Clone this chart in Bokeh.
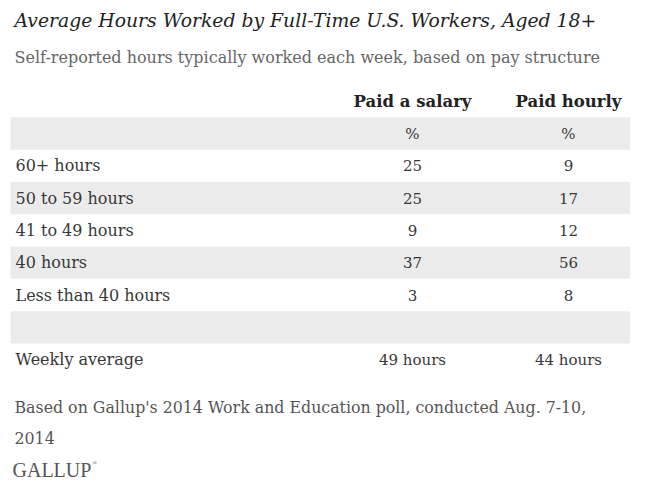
from bokeh.plotting import figure
from bokeh.models import Range1d, ColumnDataSource
from bokeh.core.properties import value
from bokeh.embed import file_html
from bokeh.resources import INLINE

# ---- data ----
title = "Average Hours Worked by Full-Time U.S. Workers, Aged 18+"
subtitle = "Self-reported hours typically worked each week, based on pay structure"
columns = ["Paid a salary", "Paid hourly"]
categories = ["60+ hours", "50 to 59 hours", "41 to 49 hours", "40 hours", "Less than 40 hours"]
salary_pct = [25, 25, 9, 37, 3]
hourly_pct = [9, 17, 12, 56, 8]
avg_label = "Weekly average"
salary_avg = 49
hourly_avg = 44
footnote = ["Based on Gallup's 2014 Work and Education poll, conducted Aug. 7-10,", "2014"]
brand = "GALLUP"

# ---- layout (pixel-like coordinates of the page) ----
W, H = 630, 483
p = figure(width=W, height=H, x_range=Range1d(0, W), y_range=Range1d(H, 0),
           output_backend="svg", toolbar_location=None, min_border=0)
p.axis.visible = False
p.grid.visible = False
p.outline_line_color = None
p.background_fill_color = "white"
p.border_fill_color = "white"

FONT = value("DejaVu Serif")
col_x = [412, 568]
label_x = 15
row0 = 133.0
row_h = 32.3
band_left, band_right = 10, 637

row_labels = [""] + categories + ["", avg_label]
sal = ["%"] + [str(v) for v in salary_pct] + ["", f"{salary_avg} hours"]
hrs = ["%"] + [str(v) for v in hourly_pct] + ["", f"{hourly_avg} hours"]
ys = [row0 + i * row_h for i in range(len(row_labels))]

# shaded bands
band_rows = [i for i in range(len(row_labels)) if i % 2 == 0]
p.quad(left=[band_left] * len(band_rows), right=[band_right] * len(band_rows),
       top=[ys[i] - row_h / 2 for i in band_rows], bottom=[ys[i] + row_h / 2 for i in band_rows],
       fill_color="#ebebeb", line_color=None)

# title / subtitle
p.text(x=[14], y=[20], text=[title], text_font=FONT, text_font_style="italic",
       text_font_size="18.8px", text_color="#222222", text_baseline="middle", text_align="left")
p.text(x=[14], y=[57], text=[subtitle], text_font=FONT,
       text_font_size="16px", text_color="#666666", text_baseline="middle", text_align="left")

# column headers
p.text(x=col_x, y=[101, 101], text=columns, text_font=FONT, text_font_style="bold",
       text_font_size="16.5px", text_color="#222222", text_baseline="middle", text_align="center")

src = ColumnDataSource(dict(y=ys, lab=row_labels, sal=sal, hrs=hrs))
p.text(x=label_x, y="y", text="lab", source=src, text_font=FONT, text_font_size="16px",
       text_color="#383838", text_baseline="middle", text_align="left")
p.text(x=col_x[0], y="y", text="sal", source=src, text_font=FONT, text_font_size="15px",
       text_color="#383838", text_baseline="middle", text_align="center")
p.text(x=col_x[1], y="y", text="hrs", source=src, text_font=FONT, text_font_size="15px",
       text_color="#383838", text_baseline="middle", text_align="center")

# footnote
p.text(x=[14, 14], y=[407, 437], text=footnote, text_font=FONT, text_font_size="15.8px",
       text_color="#555555", text_baseline="middle", text_align="left")

# brand
p.text(x=[12], y=[469], text=[brand], text_font=value("Liberation Serif"), text_font_size="20px",
       text_color="#555555", text_baseline="middle", text_align="left")
p.text(x=[92], y=[462], text=["®"], text_font=value("Liberation Serif"), text_font_size="6px",
       text_color="#555555", text_baseline="middle", text_align="left")

open("out.html", "w").write(file_html(p, INLINE))
